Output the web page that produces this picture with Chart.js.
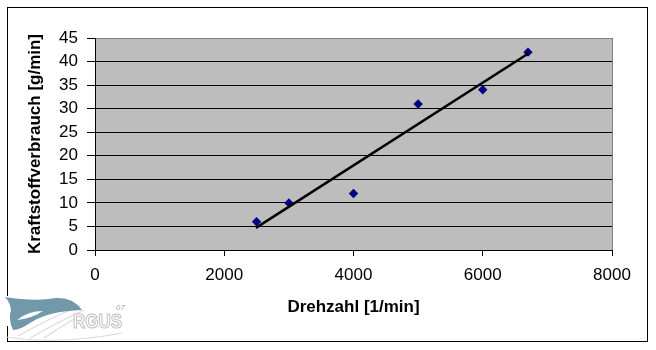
<!DOCTYPE html>
<html>
<head>
<meta charset="utf-8">
<script src="https://cdn.jsdelivr.net/npm/chart.js@4/dist/chart.umd.min.js"></script>
<style>
  html, body { margin: 0; padding: 0; background: #ffffff; }
  #c { display: block; }
</style>
</head>
<body>
<canvas id="c" width="656" height="350"></canvas>
<script>
// Measured fuel consumption vs. engine speed
const drehzahl  = [2500, 3000, 4000, 5000, 6000, 6700];
const verbrauch = [6, 10, 12, 31, 34, 42];

// Linear trend line end points
const trendX = [2490, 6705];
const trendY = [4.7, 41.7];

// Axis ticks
const xTicks = [0, 2000, 4000, 6000, 8000];
const yTicks = [0, 5, 10, 15, 20, 25, 30, 35, 40, 45];

const FONT = '"Liberation Sans", Arial, sans-serif';

// Slightly dithered grey for the plot area
function plotPattern(ctx) {
  const p = document.createElement('canvas');
  p.width = 2; p.height = 2;
  const g = p.getContext('2d');
  g.fillStyle = '#c0c0c0'; g.fillRect(0, 0, 2, 2);
  g.fillStyle = '#bababa'; g.fillRect(0, 0, 1, 1); g.fillRect(1, 1, 1, 1);
  return ctx.createPattern(p, 'repeat');
}

const frame = {
  id: 'frame',
  beforeDraw(chart) {
    const { ctx, chartArea: a } = chart;
    ctx.save();
    ctx.fillStyle = '#ffffff';
    ctx.fillRect(0, 0, chart.width, chart.height);
    ctx.fillStyle = plotPattern(ctx);
    ctx.fillRect(a.left, a.top, a.right - a.left, a.bottom - a.top);
    // outer chart border
    ctx.strokeStyle = '#000000';
    ctx.lineWidth = 1;
    ctx.strokeRect(7.5, 7.5, 640, 334);
    ctx.restore();
  },
  afterDatasetsDraw(chart) {
    const { ctx, chartArea: a } = chart;
    ctx.save();
    // right border of the plot area
    ctx.strokeStyle = '#808080';
    ctx.lineWidth = 1;
    ctx.beginPath();
    ctx.moveTo(Math.round(a.right) + 0.5, a.top);
    ctx.lineTo(Math.round(a.right) + 0.5, a.bottom);
    ctx.stroke();
    ctx.restore();
  },
  afterDraw(chart) {
    const ctx = chart.ctx;
    ctx.save();
    // white backing so the emblem sits over the frame
    ctx.fillStyle = '#ffffff';
    ctx.fillRect(4, 296, 6, 30);

    // light swooshes of the logo
    ctx.strokeStyle = '#dadada';
    ctx.lineWidth = 1.1;
    ctx.beginPath();
    ctx.moveTo(6, 337);
    ctx.quadraticCurveTo(60, 345, 122, 333);
    ctx.stroke();
    ctx.beginPath();
    ctx.moveTo(18, 336);
    ctx.quadraticCurveTo(50, 318, 80, 306);
    ctx.stroke();
    ctx.beginPath();
    ctx.moveTo(30, 338);
    ctx.quadraticCurveTo(58, 322, 84, 310);
    ctx.stroke();
    ctx.beginPath();
    ctx.moveTo(44, 338);
    ctx.quadraticCurveTo(62, 326, 76, 318);
    ctx.stroke();

    // fish shaped emblem
    ctx.fillStyle = '#7199aa';
    ctx.beginPath();
    ctx.moveTo(5, 297);
    ctx.quadraticCurveTo(35, 302, 56, 298);
    ctx.quadraticCurveTo(73, 297, 82, 310);
    ctx.quadraticCurveTo(48, 311, 30, 323);
    ctx.quadraticCurveTo(20, 330, 13, 330);
    ctx.quadraticCurveTo(8, 319, 11, 310);
    ctx.quadraticCurveTo(10, 302, 5, 297);
    ctx.closePath();
    ctx.fill();
    // white slit
    ctx.fillStyle = '#ffffff';
    ctx.beginPath();
    ctx.moveTo(17, 320);
    ctx.quadraticCurveTo(28, 311, 43, 311);
    ctx.quadraticCurveTo(33, 318, 17, 320);
    ctx.closePath();
    ctx.fill();

    // lettering
    ctx.save();
    ctx.translate(73, 328);
    ctx.scale(1, 1.15);
    ctx.font = 'bold 17px ' + FONT;
    ctx.textBaseline = 'alphabetic';
    ctx.textAlign = 'left';
    ctx.fillStyle = '#ffffff';
    ctx.strokeStyle = '#c2c2c2';
    ctx.lineWidth = 1;
    ctx.fillText('RGUS', 0, 0);
    ctx.strokeText('RGUS', 0, 0);
    ctx.restore();
    ctx.font = 'italic 8px ' + FONT;
    ctx.fillStyle = '#a8a8a8';
    ctx.fillText('07', 116, 310);
    ctx.restore();
  }
};

new Chart(document.getElementById('c'), {
  type: 'scatter',
  data: {
    datasets: [
      {
        type: 'line',
        data: trendX.map((x, i) => ({ x, y: trendY[i] })),
        borderColor: '#000000',
        borderWidth: 2.5,
        pointRadius: 0,
        fill: false,
        order: 0
      },
      {
        data: drehzahl.map((x, i) => ({ x, y: verbrauch[i] })),
        pointStyle: 'rectRot',
        pointRadius: 4.7,
        backgroundColor: '#000080',
        borderColor: '#000080',
        borderWidth: 0,
        order: 1
      }
    ]
  },
  options: {
    responsive: false,
    animation: false,
    devicePixelRatio: 1,
    layout: { padding: { left: 0, top: 38, right: 44, bottom: 0 } },
    plugins: { legend: { display: false }, tooltip: { enabled: false } },
    scales: {
      x: {
        type: 'linear',
        min: xTicks[0],
        max: xTicks[xTicks.length - 1],
        afterBuildTicks(s) { s.ticks = xTicks.map(v => ({ value: v })); },
        afterFit(s) { s.height = 100; },
        grid: { display: true, drawOnChartArea: false, drawTicks: true, tickLength: 6, color: '#000000' },
        border: { display: true, color: '#000000', width: 1 },
        ticks: {
          color: '#000000',
          font: { family: FONT, size: 17 },
          padding: 9,
          maxRotation: 0,
          callback: v => String(v)
        },
        title: {
          display: true,
          text: 'Drehzahl [1/min]',
          color: '#000000',
          font: { family: FONT, size: 17, weight: 'bold' },
          padding: { top: 0, bottom: 32 }
        }
      },
      y: {
        type: 'linear',
        min: yTicks[0],
        max: yTicks[yTicks.length - 1],
        afterBuildTicks(s) { s.ticks = yTicks.map(v => ({ value: v })); },
        afterFit(s) { s.width = 95; },
        grid: {
          display: true,
          drawTicks: true,
          tickLength: 8,
          color: c => (c.tick && c.tick.value === yTicks[yTicks.length - 1]) ? '#808080' : '#000000',
          tickColor: '#000000'
        },
        border: { display: true, color: '#000000', width: 1 },
        ticks: {
          color: '#000000',
          font: { family: FONT, size: 17 },
          padding: 9,
          callback: v => String(v)
        },
        title: {
          display: true,
          text: 'Kraftstoffverbrauch [g/min]',
          color: '#000000',
          font: { family: FONT, size: 17, weight: 'bold' },
          padding: { top: 25, bottom: 0 }
        }
      }
    }
  },
  plugins: [frame]
});
</script>
</body>
</html>
